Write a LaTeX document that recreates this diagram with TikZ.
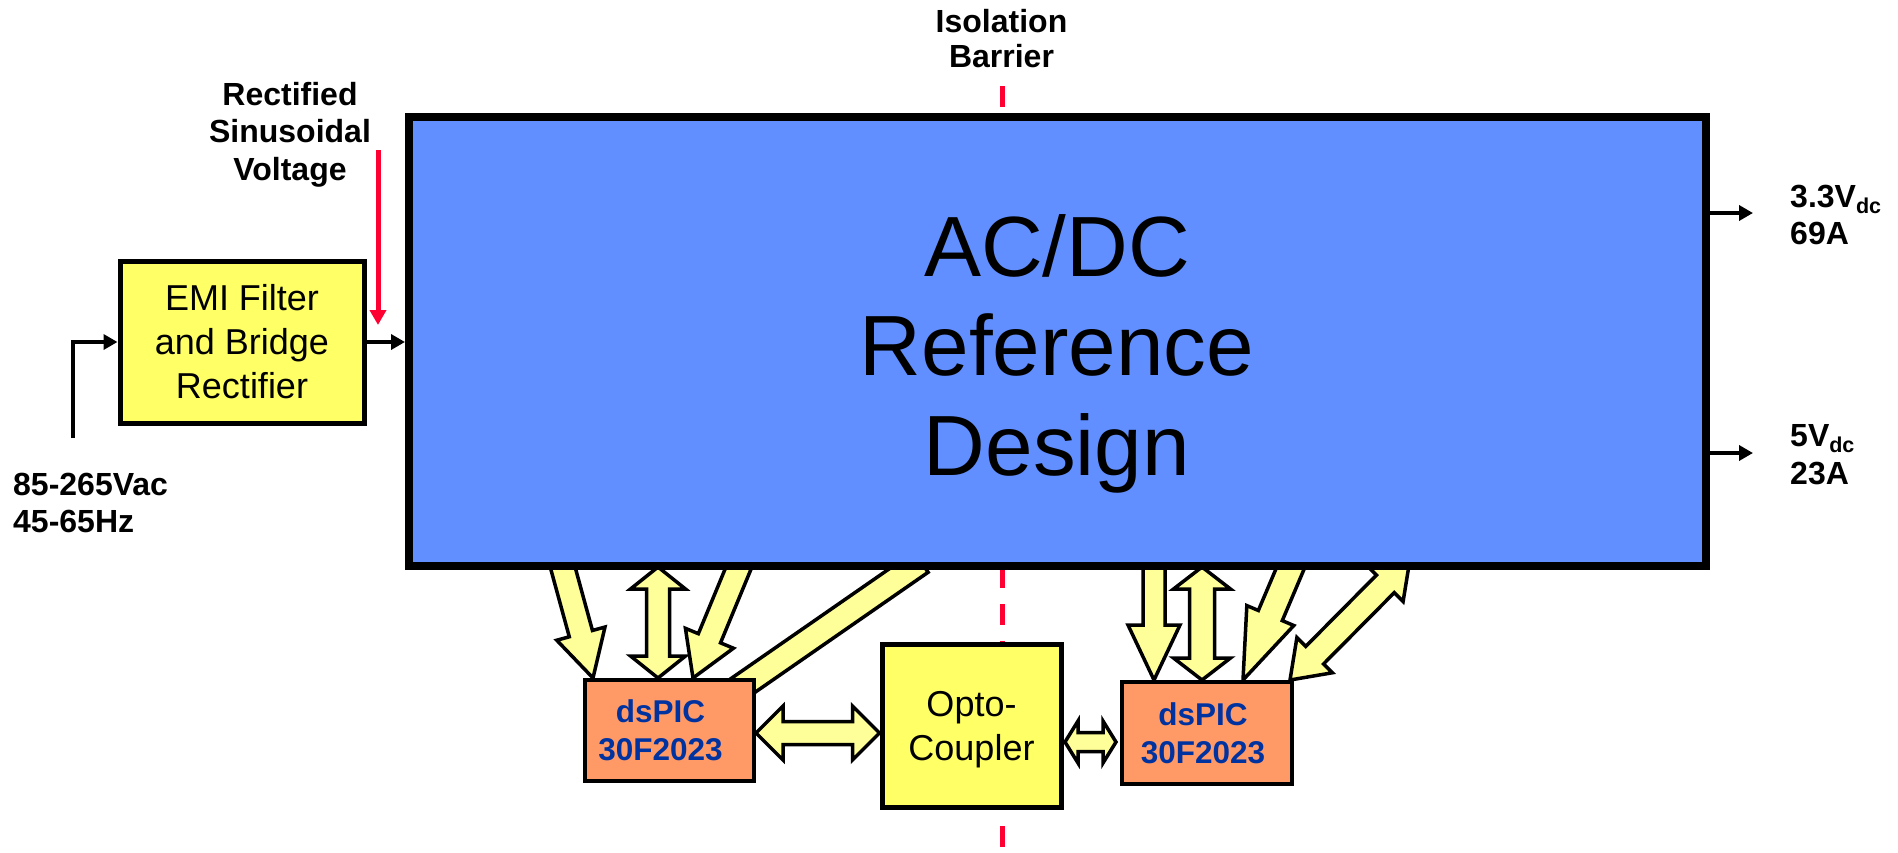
\documentclass[tikz,border=0pt]{standalone}
\usepackage{fontspec}
\setmainfont{Liberation Sans}
\usetikzlibrary{calc,arrows.meta}
\pgfdeclarelayer{background}
\pgfsetlayers{background,main}

\definecolor{mainblue}{RGB}{97,143,255}
\definecolor{boxyellow}{RGB}{255,255,102}
\definecolor{arrowyellow}{RGB}{255,255,153}
\definecolor{chiporange}{RGB}{255,153,102}
\definecolor{chipblue}{RGB}{0,51,160}
\definecolor{barrierred}{RGB}{255,0,51}

\tikzset{
  blockarrow/.style={draw=black, line width=3.5pt, fill=arrowyellow, line join=miter, miter limit=10},
  mainbox/.style={draw=black, line width=8pt, fill=mainblue, minimum width=1297pt, minimum height=449pt, inner sep=0pt},
  yellowbox/.style={draw=black, line width=5pt, fill=boxyellow, inner sep=0pt, align=center, font=\fontsize{36}{44}\selectfont},
  chipbox/.style={draw=black, line width=4pt, fill=chiporange, minimum width=169pt, minimum height=101pt, inner sep=0pt, align=center, text=chipblue, font=\bfseries\fontsize{31.5}{38}\selectfont},
  lbl/.style={inner sep=0pt, font=\bfseries\fontsize{32}{37.5}\selectfont},
  wire/.style={line width=4pt, -{Triangle[length=14pt,width=15pt]}},
  feedarrow/.style={draw=barrierred, line width=5pt, -{Triangle[length=15pt,width=16pt]}},
  barrier/.style={draw=barrierred, line width=5pt, dash pattern=on 21pt off 16pt},
}

% block arrow with one head: start, tip, half shaft, half head, head length
\newcommand\singleblock[5]{%
  \path #1 coordinate (bkS) #2 coordinate (bkT);
  \coordinate (bkH) at ($(bkT)!#5!(bkS)$);
  \draw[blockarrow] ($(bkS)!#3!90:(bkT)$) -- ($(bkH)!#3!90:(bkT)$) -- ($(bkH)!#4!90:(bkT)$)
    -- (bkT) -- ($(bkH)!#4!-90:(bkT)$) -- ($(bkH)!#3!-90:(bkT)$) -- ($(bkS)!#3!-90:(bkT)$) -- cycle;
}
% block arrow with heads at both ends
\newcommand\doubleblock[5]{%
  \path #1 coordinate (bkS) #2 coordinate (bkT);
  \coordinate (bkA) at ($(bkS)!#5!(bkT)$);
  \coordinate (bkB) at ($(bkT)!#5!(bkS)$);
  \draw[blockarrow] (bkS) -- ($(bkA)!#4!90:(bkT)$) -- ($(bkA)!#3!90:(bkT)$) -- ($(bkB)!#3!90:(bkT)$)
    -- ($(bkB)!#4!90:(bkT)$) -- (bkT) -- ($(bkB)!#4!-90:(bkT)$) -- ($(bkB)!#3!-90:(bkT)$)
    -- ($(bkA)!#3!-90:(bkT)$) -- ($(bkA)!#4!-90:(bkT)$) -- cycle;
}

\begin{document}
\begin{tikzpicture}[x=1pt,y=-1pt]
\path[use as bounding box] (0,0) rectangle (1898,852);

% main blocks
\node[mainbox] (main) at (1057.5,341.5) {};
\node[font=\fontsize{85.5}{99.5}\selectfont, align=center, inner sep=0pt, anchor=north] (maintext) at (1057,214) {AC/DC\\Reference\\Design};

\node[yellowbox, minimum width=244pt, minimum height=162pt] (emi) at (242,342) {EMI Filter\\and Bridge\\Rectifier};
\node[yellowbox, minimum width=179pt, minimum height=163pt, text depth=0pt] (opto) at (971.5,725.5) {Opto-\\Coupler};

\node[chipbox] (dspL) at (669.5,730.5) {dsPIC\hspace*{18pt}\\30F2023\hspace*{18pt}};
\node[chipbox, minimum width=170pt, minimum height=102pt] (dspR) at (1207,733) {dsPIC\hspace*{8pt}\\30F2023\hspace*{8pt}};

% labels
\node[lbl, align=center, anchor=north] (rectlbl) at (290,82) {Rectified\\Sinusoidal\\Voltage};
\node[lbl, align=center, anchor=north, font=\bfseries\fontsize{32}{35}\selectfont] (isolbl) at (1001.5,9.5) {Isolation\\Barrier};
\node[lbl, align=left, anchor=north west] (aclbl) at (13,472.5) {85-265Vac\\45-65Hz};
\node[lbl, align=left, anchor=north west] (out1lbl) at (1790,184.5) {3.3V\raisebox{-6pt}{\fontsize{21.5}{21.5}\selectfont dc}\\69A};
\node[lbl, align=left, anchor=north west] (out2lbl) at (1790,424.5) {5V\raisebox{-6pt}{\fontsize{21.5}{21.5}\selectfont dc}\\23A};

% power path
\coordinate (acin) at (73,438);
\draw[wire] (acin) |- (emi.west);
\draw[wire] (emi.east) -- (emi.east -| main.west);
\coordinate (out1) at (1753,213);
\coordinate (out2) at (1753,453);
\draw[wire] (main.east |- out1) -- (out1);
\draw[wire] (main.east |- out2) -- (out2);
\coordinate (rtop) at (378,150);
\coordinate (rtip) at (378,325);
\draw[feedarrow] (rtop) -- (rtip);

\begin{pgfonlayer}{background}
  % isolation barrier
  \coordinate (bartop) at (1002,86);
  \coordinate (barbot) at (1002,852);
  \draw[barrier] (bartop) -- (barbot);

  % signals between the power stage and the primary-side controller
  \singleblock{(561,561)}{([xshift=10pt]dspL.north west)}{12pt}{25pt}{46pt}
  \doubleblock{(658,567)}{([xshift=-11.5pt]dspL.north)}{11.5pt}{27.5pt}{22pt}
  \singleblock{(741,562)}{([xshift=23.5pt]dspL.north)}{12pt}{26pt}{43pt}
  \singleblock{(921,562)}{([shift={(-9.5,12.5)}]dspL.center)}{12.5pt}{26pt}{45pt}

  % signals between the power stage and the secondary-side controller
  \singleblock{(1154,562)}{([xshift=-53pt]dspR.north)}{11pt}{26pt}{55pt}
  \doubleblock{(1202,567)}{([xshift=-5pt]dspR.north)}{12.5pt}{28.5pt}{22pt}
  \singleblock{(1293,562)}{([xshift=36pt]dspR.north)}{13pt}{25.5pt}{70pt}
  \doubleblock{(1410,559)}{([xshift=-4pt]dspR.north east)}{12.5pt}{25pt}{35pt}

  % links through the opto-coupler
  \coordinate (c1s) at ([yshift=-2.5pt]dspL.east);
  \doubleblock{(c1s)}{(c1s -| opto.west)}{11.5pt}{27pt}{27pt}
  \coordinate (c2s) at ([shift={(1.5,16.5)}]opto.east);
  \coordinate (c2e) at ($(c2s -| dspR.west)+(-4,0)$);
  \doubleblock{(c2s)}{(c2e)}{9.5pt}{21pt}{13pt}
\end{pgfonlayer}
\end{tikzpicture}
\end{document}
